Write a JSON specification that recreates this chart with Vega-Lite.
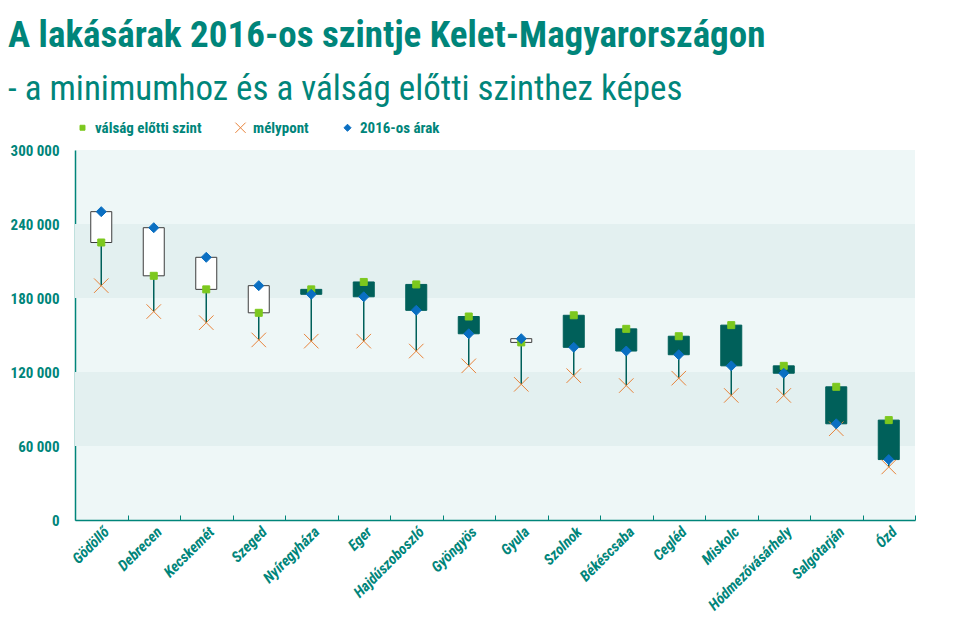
{
  "$schema": "https://vega.github.io/schema/vega-lite/v6.json",
  "autosize": {"type": "none"},
  "width": 840,
  "height": 370,
  "padding": {"left": 75, "top": 150, "right": 62, "bottom": 117},
  "background": "white",
  "title": {
    "text": "A lakásárak 2016-os szintje Kelet-Magyarországon",
    "subtitle": "- a minimumhoz és a válság előtti szinthez képes",
    "anchor": "start",
    "frame": "group",
    "dx": -67,
    "font": "Roboto Condensed",
    "fontSize": 37,
    "fontWeight": "bold",
    "color": "#00857a",
    "subtitleFont": "Roboto Condensed",
    "subtitleFontSize": 35,
    "subtitleFontWeight": "normal",
    "subtitleColor": "#00857a",
    "subtitlePadding": 17,
    "offset": 12
  },
  "datasets": {
    "prices": [
      {"city": "Gödöllő", "pre": 225000, "min": 190000, "now": 250000},
      {"city": "Debrecen", "pre": 198000, "min": 169000, "now": 237000},
      {"city": "Kecskemét", "pre": 187000, "min": 160000, "now": 213000},
      {"city": "Szeged", "pre": 168000, "min": 146000, "now": 190000},
      {"city": "Nyíregyháza", "pre": 187000, "min": 145000, "now": 183000},
      {"city": "Eger", "pre": 193000, "min": 145000, "now": 181000},
      {"city": "Hajdúszoboszló", "pre": 191000, "min": 137000, "now": 170000},
      {"city": "Gyöngyös", "pre": 165000, "min": 125000, "now": 151000},
      {"city": "Gyula", "pre": 144000, "min": 110000, "now": 147000},
      {"city": "Szolnok", "pre": 166000, "min": 117000, "now": 140000},
      {"city": "Békéscsaba", "pre": 155000, "min": 109000, "now": 137000},
      {"city": "Cegléd", "pre": 149000, "min": 115000, "now": 134000},
      {"city": "Miskolc", "pre": 158000, "min": 101000, "now": 125000},
      {"city": "Hódmezővásárhely", "pre": 125000, "min": 101000, "now": 119000},
      {"city": "Salgótarján", "pre": 108000, "min": 74000, "now": 78000},
      {"city": "Ózd", "pre": 81000, "min": 43000, "now": 49000}
    ],
    "bands": [
      {"lo": 60000, "hi": 120000},
      {"lo": 180000, "hi": 240000}
    ]
  },
  "layer": [
    {
      "data": {"name": "bands"},
      "mark": {"type": "rect", "color": "#e3f0f0"},
      "encoding": {
        "y": {
          "field": "lo", "type": "quantitative",
          "scale": {"domain": [0, 300000]},
          "axis": {"values": [0, 60000, 120000, 180000, 240000, 300000], "format": ",d", "title": null}
        },
        "y2": {"field": "hi"}
      }
    },
    {
      "data": {"name": "prices"},
      "mark": {"type": "rule", "color": "#00605a", "strokeWidth": 1.5},
      "encoding": {
        "x": {"field": "city", "type": "nominal", "sort": null},
        "y": {"field": "min", "type": "quantitative"},
        "y2": {"field": "now"}
      }
    },
    {
      "data": {"name": "prices"},
      "mark": {"type": "bar", "width": {"band": 0.4}, "strokeWidth": 1},
      "encoding": {
        "x": {"field": "city", "type": "nominal", "sort": null},
        "y": {"field": "pre", "type": "quantitative"},
        "y2": {"field": "now"},
        "fill": {"condition": {"test": "datum.now > datum.pre", "value": "#ffffff"}, "value": "#00605a"},
        "stroke": {"condition": {"test": "datum.now > datum.pre", "value": "#3c3c3c"}, "value": "#00605a"}
      }
    },
    {
      "data": {"name": "prices"},
      "transform": [{"fold": ["min", "pre", "now"], "as": ["series", "value"]}],
      "mark": {"type": "point", "filled": true, "strokeWidth": 1, "size": 100, "opacity": 1},
      "encoding": {
        "x": {"field": "city", "type": "nominal", "sort": null},
        "y": {"field": "value", "type": "quantitative"},
        "shape": {
          "field": "series", "type": "nominal",
          "scale": {
            "domain": ["pre", "min", "now"],
            "range": [
              "M-0.7,-0.7L0.7,-0.7L0.7,0.7L-0.7,0.7Z",
              "M-1.45,-1.45L1.45,1.45M-1.45,1.45L1.45,-1.45",
              "M0,-1L1,0L0,1L-1,0Z"
            ]
          },
          "legend": {
            "labelExpr": "datum.value == 'pre' ? 'válság előtti szint' : datum.value == 'min' ? 'mélypont' : '2016-os árak'"
          }
        },
        "fill": {
          "field": "series", "type": "nominal",
          "scale": {"domain": ["pre", "min", "now"], "range": ["#7cc81e", "#e8833a", "#0a6fc2"]},
          "legend": {
            "labelExpr": "datum.value == 'pre' ? 'válság előtti szint' : datum.value == 'min' ? 'mélypont' : '2016-os árak'"
          }
        },
        "stroke": {
          "field": "series", "type": "nominal",
          "scale": {"domain": ["pre", "min", "now"], "range": ["#7cc81e", "#e8833a", "#0a6fc2"]},
          "legend": {
            "labelExpr": "datum.value == 'pre' ? 'válság előtti szint' : datum.value == 'min' ? 'mélypont' : '2016-os árak'"
          }
        }
      }
    }
  ],
  "config": {
    "font": "Roboto Condensed",
    "locale": {"number": {"decimal": ",", "thousands": " ", "grouping": [3], "currency": ["", " Ft"]}},
    "view": {"fill": "#eef7f7", "stroke": null},
    "scale": {"bandPaddingInner": 0, "bandPaddingOuter": 0},
    "axisX": {
      "title": null,
      "domainColor": "#00857a",
      "domainWidth": 1.5,
      "tickColor": "#00857a",
      "tickBand": "extent",
      "tickSize": -5,
      "labelAngle": -45,
      "labelAlign": "right",
      "labelBaseline": "top",
      "labelPadding": 9,
      "labelFontSize": 15,
      "labelFontWeight": "bold",
      "labelFontStyle": "italic",
      "labelColor": "#00857a",
      "grid": false
    },
    "axisY": {
      "title": null,
      "domainColor": "#00857a",
      "domainWidth": 1.5,
      "ticks": false,
      "labelPadding": 16,
      "labelFontSize": 15,
      "labelFontWeight": "bold",
      "labelColor": "#00857a",
      "grid": false
    },
    "legend": {
      "orient": "top",
      "direction": "horizontal",
      "title": null,
      "symbolSize": 50,
      "symbolStrokeWidth": 1,
      "labelFontSize": 15,
      "labelFontWeight": "bold",
      "labelColor": "#00857a",
      "columnPadding": 31,
      "labelOffset": 5,
      "offset": 14,
      "padding": 0
    }
  }
}
